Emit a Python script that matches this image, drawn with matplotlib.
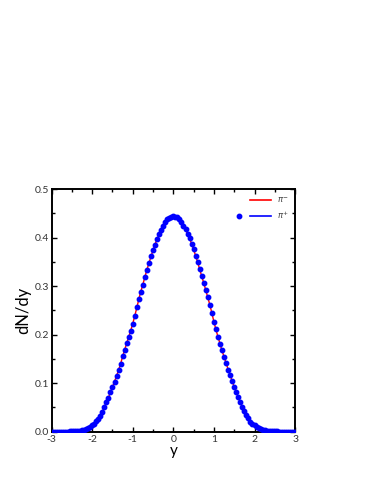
import numpy as np
import matplotlib
matplotlib.use("Agg")
import matplotlib.pyplot as plt
from matplotlib.lines import Line2D
from matplotlib.legend_handler import HandlerTuple
from matplotlib.ticker import MultipleLocator, FormatStrFormatter

plt.rcParams["axes.unicode_minus"] = False
plt.rcParams["font.family"] = ["Lato", "DejaVu Sans"]

# rapidity bins, -3 .. 3 in steps of 0.05
rapidity = np.round(np.arange(-3.0, 3.0001, 0.05), 2)

# pi+ (blue dots), left to right
dndy_pip = [
    0.00002, 0.00003, 0.00005, 0.00007, 0.0001, 0.00015, 0.0002, 0.0003, 0.0004, 0.0005,
    0.0007, 0.0009, 0.0012, 0.0016, 0.0022, 0.0030, 0.0041, 0.0056, 0.0076, 0.0100,
    0.0130, 0.0165, 0.0215, 0.0265, 0.0330, 0.0415, 0.0515, 0.0605, 0.0700, 0.0815,
    0.0915, 0.1030, 0.1140, 0.1275, 0.1390, 0.1560, 0.1695, 0.1820, 0.1960, 0.2085,
    0.2220, 0.2380, 0.2570, 0.2740, 0.2890, 0.3030, 0.3200, 0.3340, 0.3470, 0.3620,
    0.3740, 0.3860, 0.3970, 0.4080, 0.4165, 0.4240, 0.4330, 0.4385, 0.4405, 0.4425,
    0.4445, 0.4435, 0.4420, 0.4390, 0.4320, 0.4250, 0.4180, 0.4080, 0.3990, 0.3880,
    0.3760, 0.3630, 0.3490, 0.3350, 0.3210, 0.3070, 0.2920, 0.2770, 0.2620, 0.2440,
    0.2260, 0.2110, 0.1960, 0.1810, 0.1675, 0.1540, 0.1410, 0.1280, 0.1165, 0.1045,
    0.0930, 0.0820, 0.0715, 0.0605, 0.0515, 0.0425, 0.0340, 0.0275, 0.0210, 0.0160,
    0.0130, 0.0100, 0.0076, 0.0055, 0.0040, 0.0030, 0.0022, 0.0016, 0.0012, 0.0009,
    0.0007, 0.0005, 0.0004, 0.0003, 0.0002, 0.00015, 0.0001, 0.00007, 0.00005, 0.00003,
    0.00002,
]

# pi- (red line), nearly the same as pi+
dndy_pim = [
    0.00002, 0.00003, 0.00005, 0.00007, 0.0001, 0.00015, 0.0002, 0.0003, 0.0004, 0.0005,
    0.0007, 0.0009, 0.0012, 0.0016, 0.0022, 0.0030, 0.0040, 0.0055, 0.0075, 0.0100,
    0.0130, 0.0165, 0.0212, 0.0268, 0.0332, 0.0418, 0.0512, 0.0608, 0.0705, 0.0812,
    0.0920, 0.1035, 0.1150, 0.1270, 0.1400, 0.1550, 0.1690, 0.1825, 0.1955, 0.2090,
    0.2230, 0.2390, 0.2560, 0.2735, 0.2895, 0.3040, 0.3195, 0.3345, 0.3480, 0.3615,
    0.3745, 0.3865, 0.3975, 0.4075, 0.4170, 0.4245, 0.4325, 0.4380, 0.4410, 0.4430,
    0.4440, 0.4430, 0.4415, 0.4385, 0.4315, 0.4245, 0.4175, 0.4075, 0.3985, 0.3875,
    0.3755, 0.3625, 0.3495, 0.3345, 0.3205, 0.3065, 0.2915, 0.2765, 0.2615, 0.2445,
    0.2265, 0.2105, 0.1955, 0.1815, 0.1670, 0.1545, 0.1415, 0.1285, 0.1170, 0.1040,
    0.0925, 0.0825, 0.0710, 0.0600, 0.0510, 0.0420, 0.0335, 0.0270, 0.0210, 0.0160,
    0.0130, 0.0100, 0.0075, 0.0055, 0.0040, 0.0030, 0.0022, 0.0016, 0.0012, 0.0009,
    0.0007, 0.0005, 0.0004, 0.0003, 0.0002, 0.00015, 0.0001, 0.00007, 0.00005, 0.00003,
    0.00002,
]

fig = plt.figure(figsize=(3.74, 4.84), dpi=100)
ax = fig.add_axes([0.138, 0.108, 0.651, 0.501])

ax.plot(rapidity, dndy_pim, color="red", lw=1.0, zorder=2)
ax.plot(rapidity, dndy_pip, "o", color="blue", ms=3.2, mec="blue", zorder=3)

ax.set_xlim(-3, 3)
ax.set_ylim(0, 0.5)
ax.xaxis.set_major_locator(MultipleLocator(1))
ax.xaxis.set_minor_locator(MultipleLocator(0.5))
ax.yaxis.set_major_locator(MultipleLocator(0.1))
ax.yaxis.set_minor_locator(MultipleLocator(0.05))
ax.yaxis.set_major_formatter(FormatStrFormatter("%.1f"))
ax.xaxis.set_major_formatter(FormatStrFormatter("%d"))
ax.tick_params(which="both", direction="in", top=True, right=True,
               labelsize=7.5, pad=2, width=1.0, color="black", labelcolor="#333333")
ax.tick_params(which="major", length=3.5)
ax.tick_params(which="minor", length=2)
for s in ax.spines.values():
    s.set_linewidth(1.4)

ax.set_xlabel("y", fontsize=11, labelpad=0)
ax.set_ylabel("dN/dy", fontsize=12, labelpad=2)

# gnuplot-like key: marker sits left of the line sample
h_pim = (Line2D([], [], ls="none"), Line2D([], [], color="red", lw=1.2))
h_pip = (Line2D([], [], ls="none", marker="o", color="blue", ms=3.2),
         Line2D([], [], color="blue", lw=1.2))
ax.legend([h_pim, h_pip], [r"$\pi^{-}$", r"$\pi^{+}$"],
          handler_map={tuple: HandlerTuple(ndivide=None, pad=0.0)},
          loc="upper right", frameon=False, fontsize=6, labelcolor="#444444",
          handlelength=5.0, handletextpad=0.8, labelspacing=0.6,
          borderaxespad=0.3, borderpad=0.4)

fig.savefig("out.png", dpi=100)
